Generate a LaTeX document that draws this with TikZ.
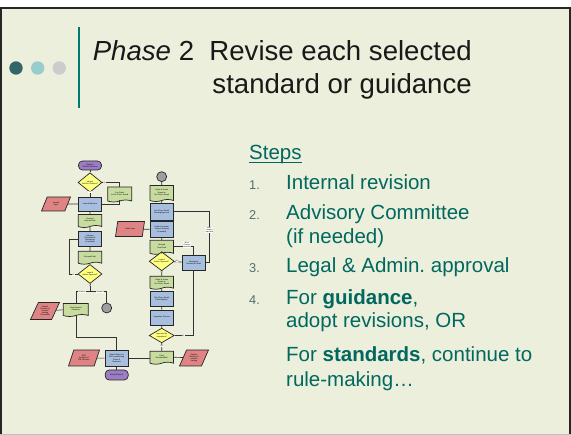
\documentclass[tikz,border=0pt]{standalone}
\usepackage{fontspec}
\setmainfont{Liberation Sans}
\usetikzlibrary{shapes.geometric,shapes.symbols,positioning}
\frenchspacing

\definecolor{slidebg}{RGB}{237,239,221}
\definecolor{tealtext}{RGB}{0,104,94}
\definecolor{numgray}{RGB}{80,112,110}
\definecolor{darkdot}{RGB}{51,102,102}
\definecolor{lightdot}{RGB}{153,204,204}
\definecolor{graydot}{RGB}{204,204,204}
\definecolor{barteal}{RGB}{0,122,112}
\definecolor{termfill}{RGB}{155,125,195}
\definecolor{decfill}{RGB}{255,255,130}
\definecolor{docfill}{RGB}{200,220,160}
\definecolor{procfill}{RGB}{168,190,222}
\definecolor{datafill}{RGB}{222,132,132}

\tikzset{
  flow/.style={draw=black!85, line width=0.7pt, inner sep=0pt, align=center,
    font=\fontsize{1.9}{2.2}\selectfont},
  process/.style={flow, rectangle, fill=procfill, minimum width=23.4pt, minimum height=15pt},
  decision/.style={flow, diamond, fill=decfill, minimum width=24pt, minimum height=12pt},
  docu/.style={flow, tape, tape bend top=none, tape bend height=2pt, fill=docfill,
    minimum width=23.4pt, minimum height=13pt},
  dataio/.style={flow, trapezium, trapezium left angle=63, trapezium right angle=117,
    trapezium stretches=true, fill=datafill, minimum width=29pt, minimum height=15pt},
  terminal/.style={flow, rectangle, rounded corners=4pt, fill=termfill,
    minimum width=23pt, minimum height=9pt},
  connector/.style={flow, circle, fill=gray!75, minimum size=10pt},
  lbl/.style={fill=white, inner sep=0.3pt, align=center, font=\fontsize{1.7}{2}\selectfont},
  link/.style={draw=black!80, line width=0.6pt},
  title/.style={anchor=base east, inner sep=0pt, text=black!90, font=\fontsize{27.6}{33}\selectfont},
  stepnum/.style={anchor=base west, inner sep=0pt, text=numgray, font=\fontsize{12.8}{15}\selectfont},
  steptext/.style={anchor=base west, inner sep=0pt, text=tealtext, font=\fontsize{20.5}{24}\selectfont},
}

\begin{document}
\begin{tikzpicture}[x=1pt,y=-1pt]
  \useasboundingbox (0,0) rectangle (571,435);

  % slide
  \fill[white] (0,0) rectangle (571,435);
  \fill[slidebg] (0,7) rectangle (571,435);
  \draw[black!85, line width=2pt] (1,435) -- (1,8) -- (570,8) -- (570,435);
  \draw[black!25, line width=1pt] (0,434.5) -- (571,434.5);

  \fill[darkdot] (16,68) circle (6.7pt);
  \fill[lightdot] (37.7,68) circle (6.7pt);
  \fill[graydot] (59.3,68) circle (6.7pt);
  \draw[barteal, line width=2pt] (79,27) -- (79,108);

  \node[title] (tl1) at (472,61) {\textit{Phase} 2\ \ Revise each selected};
  \node[title] (tl2) at (472,94) {standard or guidance};

  % steps
  \node[steptext] (stepshead) at (249,160) {Steps};
  \draw[tealtext, line width=1.2pt] ([yshift=-2.6pt]stepshead.base west) -- ([yshift=-2.6pt]stepshead.base east);

  \node[stepnum] (n1) at (249,190) {1.};
  \node[steptext] (s1) at (286,190) {Internal revision};
  \node[stepnum] (n2) at (249,220) {2.};
  \node[steptext] (s2a) at (286,220) {Advisory Committee};
  \node[steptext] (s2b) at (286,244) {(if needed)};
  \node[stepnum] (n3) at (249,273) {3.};
  \node[steptext] (s3) at (286,273) {Legal \& Admin. approval};
  \node[stepnum] (n4) at (249,305) {4.};
  \node[steptext] (s4a) at (286,305) {For \textbf{guidance},};
  \node[steptext] (s4b) at (286,328) {adopt revisions, OR};
  \node[steptext] (s5a) at (286,362) {For \textbf{standards}, continue to};
  \node[steptext] (s5b) at (286,387) {rule-making…};

  % flowchart, guidance column
  \node[terminal] (ph2) at (90,165.5) {Phase II\\Std./Gd. Revision};
  \node[decision] (q1) at (90,182.5) {Internal\\Std./Gd. Revision?};
  \node[docu, minimum width=24pt, minimum height=15pt] (pre) at (119.7,193.5) {Pre-Sheet\\to Sec./Exec. Board};
  \node[dataio, minimum height=14pt] (inin) at (56,204) {Internal\\Input};
  \node[process, minimum height=14pt] (intrev) at (90,204) {Internal Revision};
  \node[docu] (rid) at (90,220) {Revised\\Internal Draft};
  \node[process, minimum height=15.7pt] (adv) at (90,239) {Advisory\\Committee \&\\Workgroup\\(if needed)};
  \node[docu] (rd) at (90,256.7) {Revised Draft};
  \node[decision, minimum height=15pt] (la1) at (90,274) {Legal \&\\Admin. Approval?};
  \node[docu, minimum width=25pt] (frg) at (75.8,309) {Final Revised\\Guidance};
  \node[connector] (c1) at (106.7,308) {};
  \node[dataio, minimum height=17pt] (pub1) at (45,311) {Publish\\Revision \&\\conduct\\training\\(if needed)};
  \node[process, minimum height=16.7pt] (rep) at (116.7,358.3) {Submit Report to\\EDS summarizing\\Phase II\\Revisions};
  \node[dataio, minimum width=31pt, minimum height=16pt] (gad) at (84,358) {EDS\\Adoption of\\Std. Revision};
  \node[terminal, minimum height=10pt] (endp) at (116.7,375) {End of Phase II};

  % flowchart, standard column
  \node[connector] (c2) at (161.7,176.7) {};
  \node[docu, minimum height=16pt] (ygs1) at (161.7,192.5) {Yellow \& Green\\Sheets to\\Sec./Exec. Board};
  \node[process, minimum height=16.7pt] (meet) at (161.7,211.7) {Sec./Exec. Board\\Meeting/Approval};
  \node[process, minimum height=16pt] (pci) at (161.7,229.5) {Public Comment\\Period / Hearing\\(if needed)};
  \node[dataio] (pin) at (130,229) {Public Input};
  \node[docu, minimum height=14pt] (rfd) at (161.7,246.3) {Revised\\Final Draft};
  \node[decision, minimum width=25pt, minimum height=11pt] (la2) at (161.7,261.3) {Legal \&\\Admin. Approval?};
  \node[process] (wg) at (193.7,262.5) {Workgroup\\Revises the Draft};
  \node[docu] (ygs2) at (161.7,281.7) {Yellow \& Green\\Sheets to\\Sec./Exec. Board};
  \node[process] (fad) at (161.7,299) {Sec./Exec. Board\\Final Adoption};
  \node[process] (leg) at (161.7,317.5) {Legislative Process};
  \node[decision, minimum width=25pt, minimum height=14pt] (apl) at (161.7,335.5) {Approved by\\Legislature?};
  \node[docu] (fsr) at (161.7,356.7) {Final\\Standard/Rule};
  \node[dataio, minimum height=16pt] (pub2) at (194,358) {Publish\\Revision \&\\conduct\\training};

  % connectors
  \draw[link] (ph2) -- (q1) -- (intrev);
  \draw[link] (q1.east) -| (pre.north);
  \draw[link] (intrev.east) -| (pre.south);
  \draw[link] (inin) -- (intrev);
  \draw[link] (intrev) -- (rid) -- (adv) -- (rd) -- (la1);
  \draw[link] (la1.west) -- ++(-8,0) |- (adv.west);
  \coordinate (split) at (90,291.7);
  \draw[link] (la1) -- (split);
  \draw[link] (split) -| (frg.north);
  \draw[link] (split) -| (c1.north);
  \draw[link] (pub1) -- (frg);
  \draw[link] (frg.south) |- ([yshift=12pt]rep.north) -- (rep.north);
  \draw[link] (gad) -- (rep);
  \draw[link] (rep) -- (endp);
  \draw[link] (rep.east) -- (rep.east -| fsr.west);

  \draw[link] (c2) -- (ygs1) -- (meet) -- (pci) -- (rfd) -- (la2) -- (ygs2) -- (fad) -- (leg) -- (apl) -- (fsr);
  \draw[link] (pin) -- (pci);
  \draw[link] (fsr) -- (pub2);
  \draw[link] (la2) -- (wg);
  \draw[link] (rfd.east) -| (wg.north);
  \draw[link] (meet.east) -| ([xshift=3.5pt]wg.east) -- (wg.east);
  \draw[link] (apl.east) -| (wg.south);

  % connector labels
  \node[lbl] (l1) at (90,192) {Yes};
  \node[lbl] (l2) at (104.5,182.5) {No};
  \node[lbl] (l3) at (73.3,275) {No};
  \node[lbl] (l4) at (90,285.5) {Yes};
  \node[lbl] (l5) at (82,291.7) {Guidance};
  \node[lbl] (l6) at (100,291.7) {Standard};
  \node[lbl] (l7) at (177,261.3) {No};
  \node[lbl] (l8) at (161.7,271.5) {Yes};
  \node[lbl] (l9) at (187,245) {Minor\\Changes\\requested};
  \node[lbl] (l10) at (209.3,230) {Major\\Changes\\requested};
  \node[lbl] (l11) at (183.3,335.5) {No};
  \node[lbl] (l12) at (161.7,346) {Yes};
\end{tikzpicture}
\end{document}
